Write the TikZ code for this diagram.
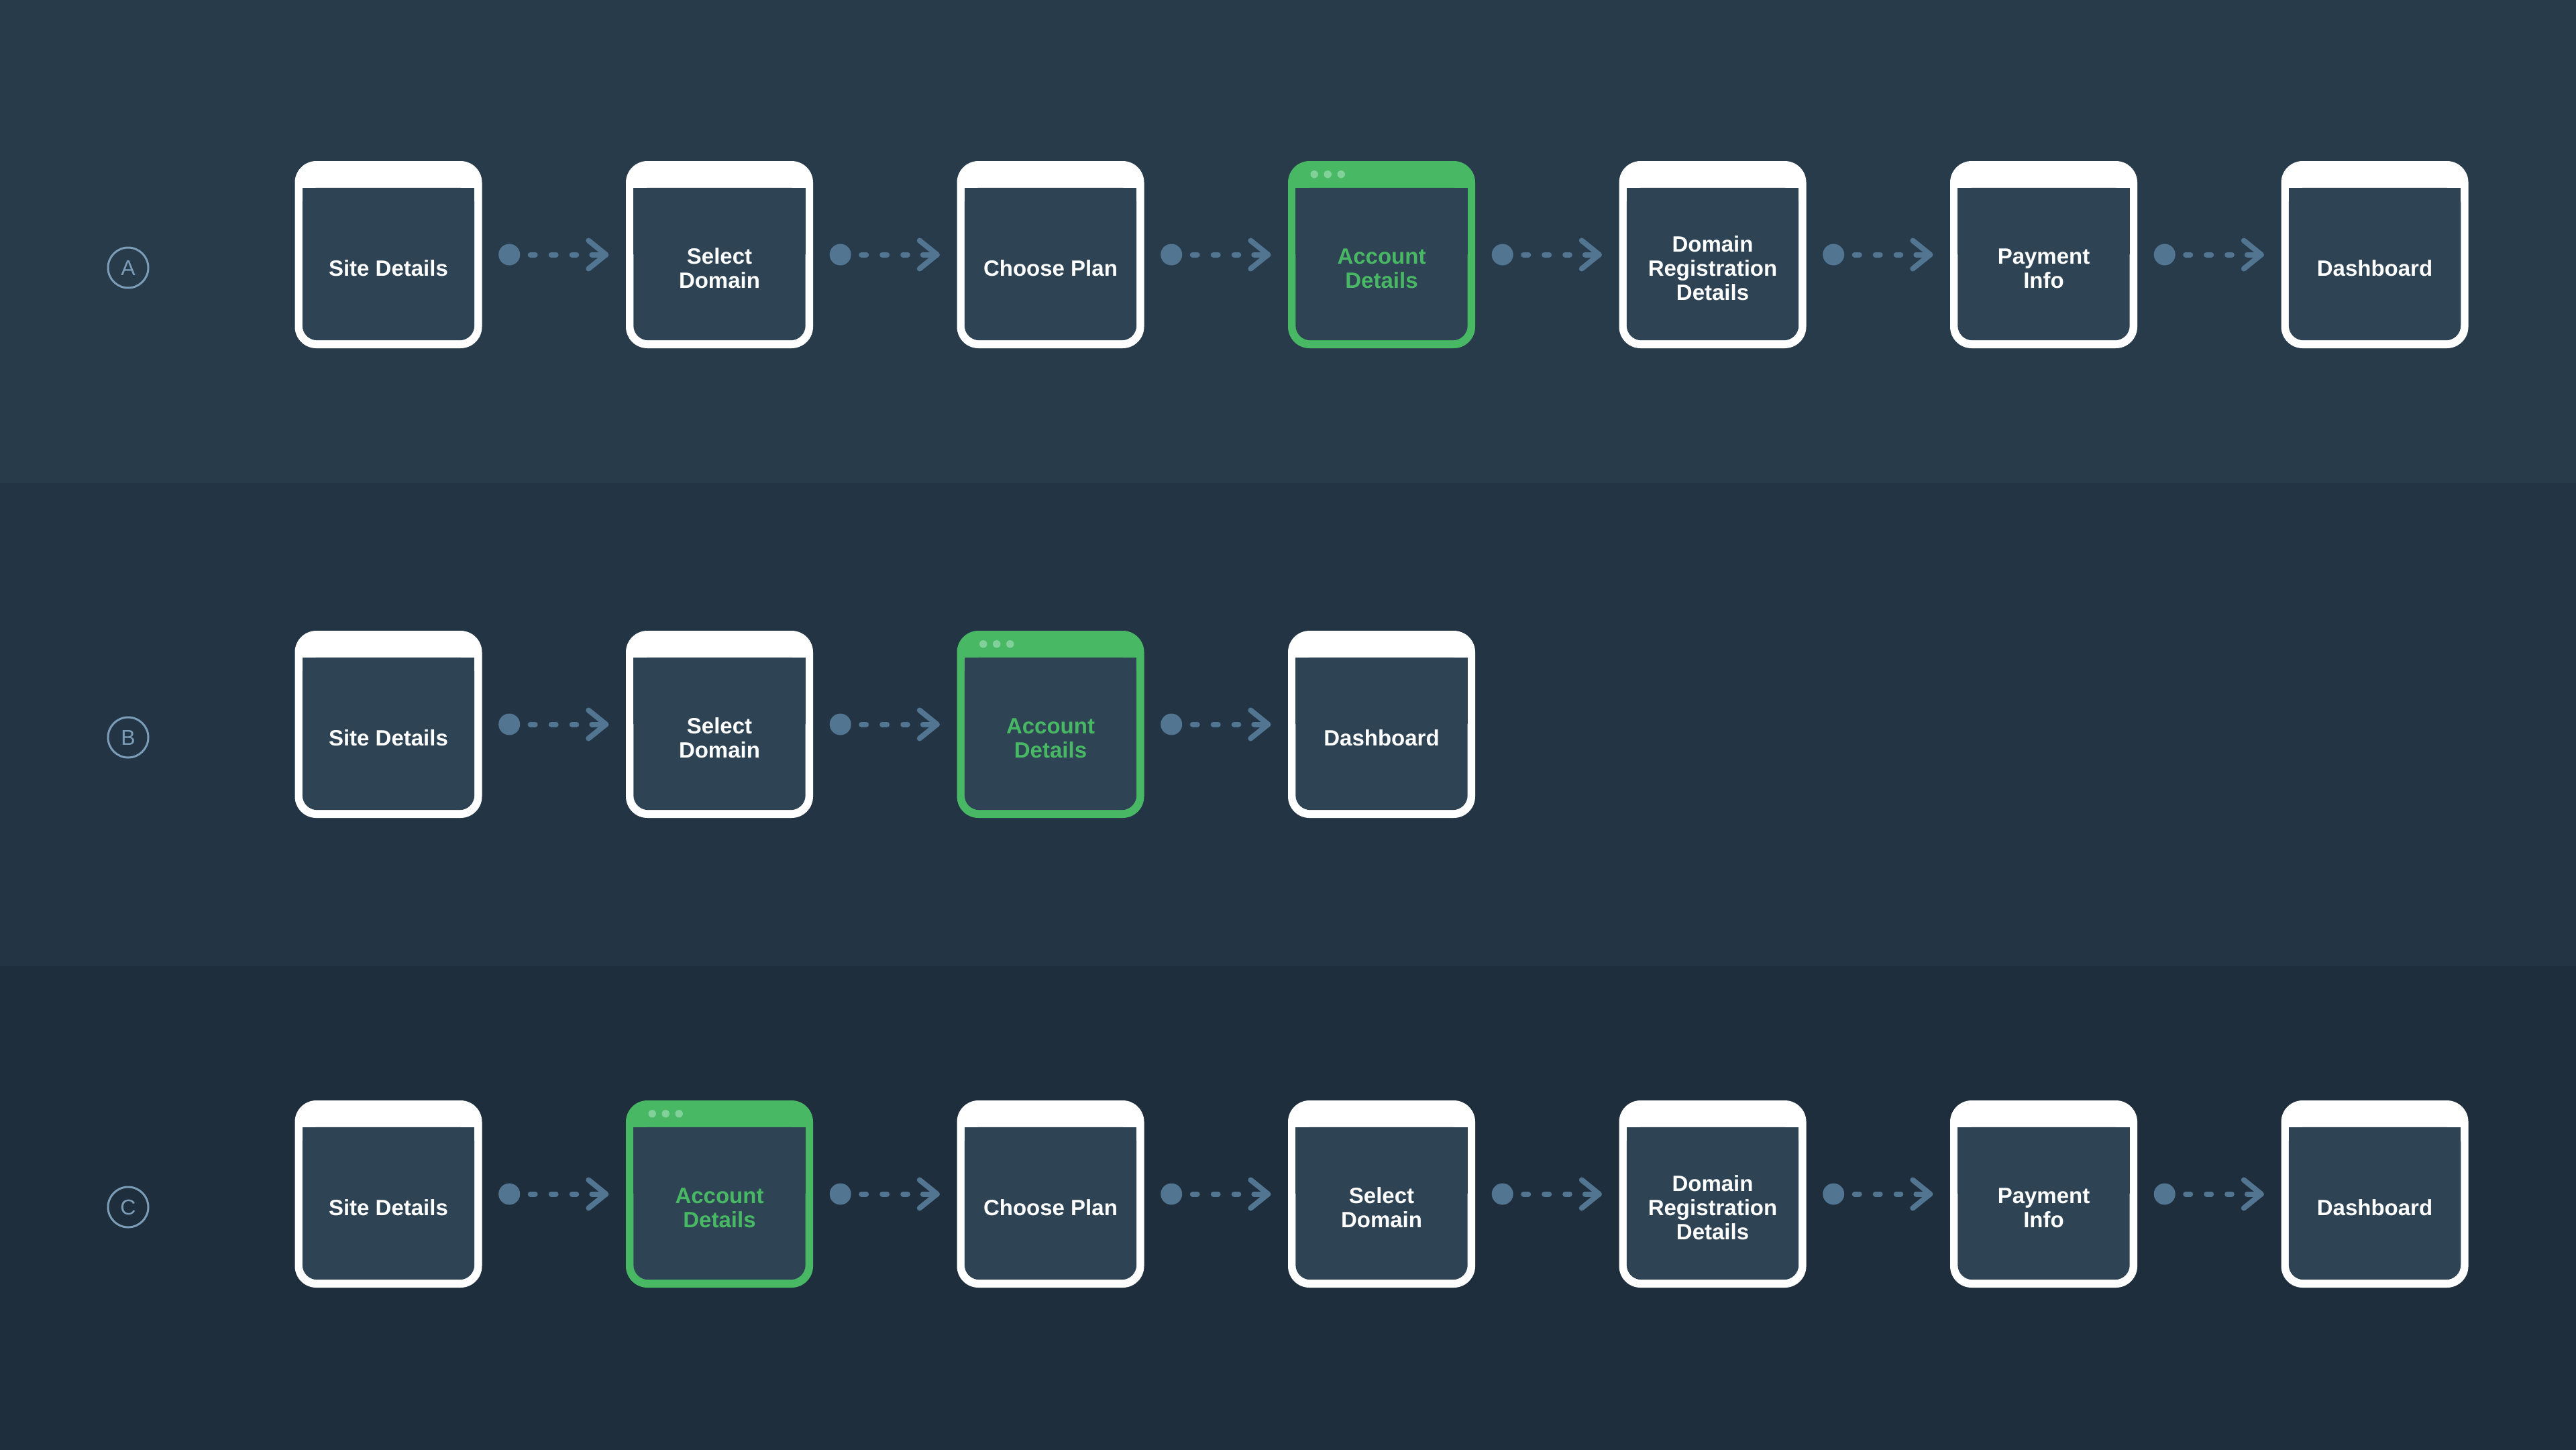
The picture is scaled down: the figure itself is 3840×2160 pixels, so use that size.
\documentclass[tikz,border=0pt]{standalone}
\usepackage{fontspec}
\setmainfont{Liberation Sans}
\usetikzlibrary{calc}

\definecolor{bandone}{HTML}{283B4B}
\definecolor{bandtwo}{HTML}{233545}
\definecolor{bandthree}{HTML}{1F2E3C}
\definecolor{bodyfill}{HTML}{2E4454}
\definecolor{activegreen}{HTML}{49B865}
\definecolor{dotgreen}{HTML}{82D19B}
\definecolor{linkblue}{HTML}{527592}
\definecolor{labelblue}{HTML}{7C9DB8}

% strut giving every caption line the same height and depth
\newcommand\lnstrut{\rule[-8pt]{0pt}{28pt}}

\tikzset{
  screenframe/.style={rectangle, minimum width=279pt, minimum height=279pt,
    inner sep=0pt, rounded corners=32pt},
  screenbody/.style={fill=bodyfill},
  screentext/.style={inner sep=0pt, align=center,
    font=\fontsize{33pt}{36pt}\selectfont\bfseries},
  rowlabel/.style={circle, draw=labelblue, line width=3pt, minimum size=60pt,
    inner sep=0pt, text=labelblue, font=\fontsize{32pt}{36pt}\selectfont},
  linkdot/.style={fill=linkblue},
  linkdash/.style={draw=linkblue, line width=8pt, line cap=round,
    dash pattern=on 7pt off 24pt},
  linkhead/.style={draw=linkblue, line width=8pt, line cap=round, line join=round},
}

% #1 name, #2 x, #3 y, #4 frame colour, #5 caption colour, #6 caption
\newcommand\screen[6]{%
  \node[screenframe, fill=#4] (#1) at (#2,#3) {};
  \fill[screenbody] ([xshift=11.5pt,yshift=-40pt]#1.north west)
    rectangle ([xshift=-11.5pt,yshift=-139.5pt]#1.north east);
  \fill[screenbody, rounded corners=22pt] ([xshift=11.5pt,yshift=-40pt]#1.north west)
    rectangle ([xshift=-11.5pt,yshift=12pt]#1.south east);
  \node[screentext, text=#5] (#1-t) at ([yshift=-24.5pt]#1.center) {#6};
}

% three window dots on the title bar of a highlighted screen
\newcommand\windowdots[1]{%
  \foreach \dx in {39.4,59.4,79.4}
    \fill[dotgreen] ([xshift=\dx pt,yshift=-20pt]#1.north west) circle[radius=5.7pt];
}

% dotted link with a round start and an open chevron head
\newcommand\link[2]{%
  \fill[linkdot] ([xshift=40.5pt]#1.east) circle[radius=16pt];
  \draw[linkdash] ([xshift=72pt]#1.east) -- ([xshift=-73.5pt]#2.west);
  \draw[linkhead] ([xshift=-50.5pt]#2.west) -- ([xshift=-29.5pt]#2.west);
  \draw[linkhead] ([xshift=-55.5pt,yshift=21pt]#2.west) -- ([xshift=-29.5pt]#2.west)
    -- ([xshift=-55.5pt,yshift=-21pt]#2.west);
}

\begin{document}
\begin{tikzpicture}[x=1pt, y=-1pt]
\useasboundingbox (0,0) rectangle (3840,2160);

% background bands (run slightly past the page edge)
\fill[bandone] (-10,-10) rectangle (3850,720);
\fill[bandtwo] (-10,720) rectangle (3850,1440);
\fill[bandthree] (-10,1440) rectangle (3850,2170);

% row labels
\node[rowlabel] (lA) at (191,399) {A};
\node[rowlabel] (lB) at (191,1099) {B};
\node[rowlabel] (lC) at (191,1799) {C};

% flow A
\screen{a1}{579}{379.5}{white}{white}{\lnstrut Site Details}
\screen{a2}{1072.5}{379.5}{white}{white}{\lnstrut Select\\\lnstrut Domain}
\screen{a3}{1566}{379.5}{white}{white}{\lnstrut Choose Plan}
\screen{a4}{2059.5}{379.5}{activegreen}{activegreen}{\lnstrut Account\\\lnstrut Details}
\windowdots{a4}
\screen{a5}{2553}{379.5}{white}{white}{\lnstrut Domain\\\lnstrut Registration\\\lnstrut Details}
\screen{a6}{3046.5}{379.5}{white}{white}{\lnstrut Payment\\\lnstrut Info}
\screen{a7}{3540}{379.5}{white}{white}{\lnstrut Dashboard}
\link{a1}{a2}
\link{a2}{a3}
\link{a3}{a4}
\link{a4}{a5}
\link{a5}{a6}
\link{a6}{a7}

% flow B
\screen{b1}{579}{1079.5}{white}{white}{\lnstrut Site Details}
\screen{b2}{1072.5}{1079.5}{white}{white}{\lnstrut Select\\\lnstrut Domain}
\screen{b3}{1566}{1079.5}{activegreen}{activegreen}{\lnstrut Account\\\lnstrut Details}
\windowdots{b3}
\screen{b4}{2059.5}{1079.5}{white}{white}{\lnstrut Dashboard}
\link{b1}{b2}
\link{b2}{b3}
\link{b3}{b4}

% flow C
\screen{c1}{579}{1779.5}{white}{white}{\lnstrut Site Details}
\screen{c2}{1072.5}{1779.5}{activegreen}{activegreen}{\lnstrut Account\\\lnstrut Details}
\windowdots{c2}
\screen{c3}{1566}{1779.5}{white}{white}{\lnstrut Choose Plan}
\screen{c4}{2059.5}{1779.5}{white}{white}{\lnstrut Select\\\lnstrut Domain}
\screen{c5}{2553}{1779.5}{white}{white}{\lnstrut Domain\\\lnstrut Registration\\\lnstrut Details}
\screen{c6}{3046.5}{1779.5}{white}{white}{\lnstrut Payment\\\lnstrut Info}
\screen{c7}{3540}{1779.5}{white}{white}{\lnstrut Dashboard}
\link{c1}{c2}
\link{c2}{c3}
\link{c3}{c4}
\link{c4}{c5}
\link{c5}{c6}
\link{c6}{c7}
\end{tikzpicture}
\end{document}
